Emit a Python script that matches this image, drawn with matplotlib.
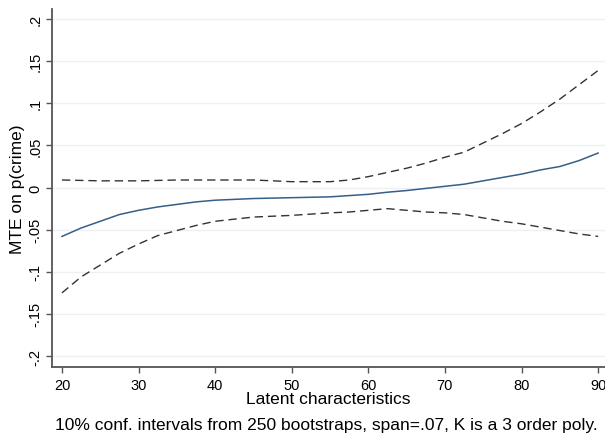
import matplotlib
matplotlib.use("Agg")
import matplotlib.pyplot as plt

# latent characteristic grid and MTE estimates with bootstrap bands
latent = [20, 22.5, 25, 27.5, 30, 32.5, 35, 37.5, 40, 45, 50, 55, 57.5,
          60, 62.5, 65, 67.5, 70, 72.5, 75, 77.5, 80, 82.5, 85, 87.5, 90]
mte = [-0.058, -0.048, -0.040, -0.032, -0.027, -0.023, -0.020, -0.017,
       -0.015, -0.013, -0.012, -0.011, -0.0095, -0.008, -0.0055, -0.0035,
       -0.001, 0.0015, 0.004, 0.008, 0.012, 0.016, 0.021, 0.025, 0.032, 0.041]
upper = [0.009, 0.0085, 0.008, 0.008, 0.008, 0.0085, 0.009, 0.009, 0.009,
         0.009, 0.007, 0.007, 0.009, 0.013, 0.018, 0.023, 0.029, 0.036,
         0.042, 0.053, 0.064, 0.076, 0.090, 0.105, 0.122, 0.139]
lower = [-0.125, -0.106, -0.092, -0.078, -0.067, -0.057, -0.051, -0.045,
         -0.040, -0.035, -0.033, -0.030, -0.029, -0.027, -0.025, -0.027,
         -0.029, -0.030, -0.032, -0.036, -0.040, -0.043, -0.047, -0.051,
         -0.055, -0.058]

xticks = [20, 30, 40, 50, 60, 70, 80, 90]
yticks = [0.2, 0.15, 0.1, 0.05, 0, -0.05, -0.1, -0.15, -0.2]
ytick_labels = [".2", ".15", ".1", ".05", "0", "-.05", "-.1", "-.15", "-.2"]

plt.rcParams["font.family"] = ["Liberation Sans", "DejaVu Sans"]

fig = plt.figure(figsize=(6.05, 4.39), dpi=100)
ax = fig.add_axes([52 / 605, 1 - 368 / 439, 553 / 605, 358 / 439])

for yv in yticks:
    ax.axhline(yv, color="#edf1f4", lw=1.0, zorder=0)

ax.plot(latent, mte, color="#365f88", lw=1.1, zorder=3)
ax.plot(latent, upper, color="#333333", lw=1.0, dashes=(6, 3.5), zorder=2)
ax.plot(latent, lower, color="#333333", lw=1.0, dashes=(6, 3.5), zorder=2)

ax.set_xlim(18.7, 90.9)
ax.set_ylim(-0.213, 0.212)
ax.set_xticks(xticks)
ax.set_yticks(yticks)
ax.set_yticklabels(ytick_labels, rotation=90, va="center")

for side in ("top", "right"):
    ax.spines[side].set_visible(False)
for side in ("left", "bottom"):
    ax.spines[side].set_color("#555555")
    ax.spines[side].set_linewidth(1.3)

ax.tick_params(direction="out", length=4, width=1, color="#555555",
               labelsize=10.5)
ax.tick_params(axis="x", pad=4)
ax.tick_params(axis="y", pad=3)
ax.set_xlabel("Latent characteristics", fontsize=12.5, labelpad=-1)
ax.set_ylabel("MTE on p(crime)", fontsize=12.5, labelpad=2)

fig.text(326 / 605, 1 - 426 / 439,
         "10% conf. intervals from 250 bootstraps, span=.07, K is a 3 order poly.",
         ha="center", va="center", fontsize=12.5)

fig.savefig("out.png", dpi=100)
